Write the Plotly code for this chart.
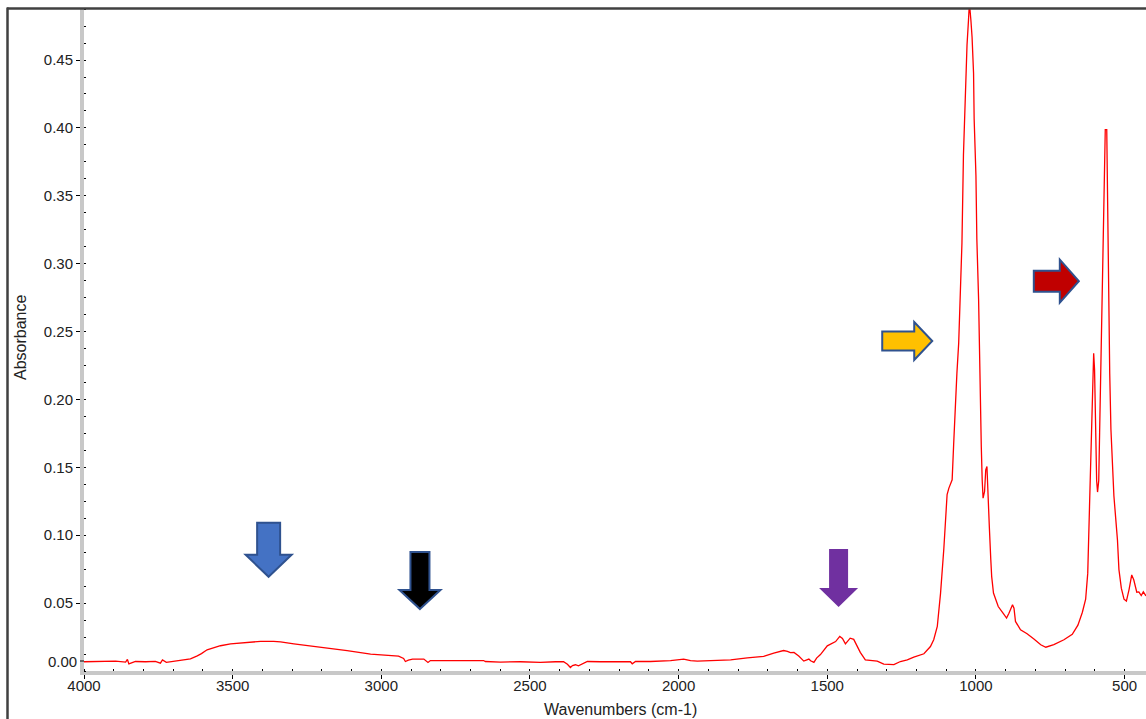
import plotly.graph_objects as go

# ---------------------------------------------------------------------------
# FTIR absorbance spectrum (wavenumber in cm-1, absorbance units)
# ---------------------------------------------------------------------------
wavenumber = [
    4000, 3961, 3928, 3894, 3860, 3854, 3849, 3827, 3793, 3760, 3743, 3736, 3723,
    3692, 3659, 3642, 3619, 3605, 3586, 3563, 3541, 3507, 3451, 3406, 3362, 3339,
    3294, 3227, 3171, 3115, 3036, 2969, 2942, 2925, 2919, 2909, 2895, 2857, 2850,
    2843, 2835, 2801, 2656, 2650, 2599, 2532, 2465, 2414, 2387, 2374, 2364, 2357,
    2347, 2337, 2323, 2307, 2263, 2212, 2162, 2156, 2145, 2095, 2061, 2027, 1983,
    1960, 1937, 1876, 1825, 1769, 1742, 1714, 1680, 1664, 1647, 1634, 1624, 1612,
    1596, 1579, 1562, 1556, 1545, 1536, 1523, 1500, 1486, 1472, 1458, 1449, 1439,
    1430, 1423, 1411, 1402, 1389, 1372, 1332, 1310, 1276, 1254, 1231, 1209, 1175,
    1153, 1142, 1130, 1119, 1108, 1097, 1091, 1086, 1080, 1075, 1069, 1064, 1058,
    1053, 1047, 1042, 1036, 1030, 1025, 1022, 1017, 1013, 1008, 1006, 1000, 997,
    991, 988, 986, 982, 979, 976, 971, 967, 963, 960, 955, 950, 947, 941, 925,
    907, 897, 889, 880, 877, 872, 867, 850, 828, 805, 782, 765, 738, 704, 676,
    657, 642, 631, 624, 618, 612, 607, 604, 601, 597, 594, 591, 587, 584, 581,
    577, 573, 568, 565, 560, 558, 555, 550, 546, 541, 536, 530, 524, 519, 511,
    502, 494, 485, 476, 469, 459, 452, 444, 437, 429, 419,
]

absorbance = [
    0.0068, 0.0070, 0.0067, 0.0072, 0.0066, 0.0085, 0.0052, 0.0070, 0.0068, 0.0071,
    0.0058, 0.0081, 0.0064, 0.0074, 0.0080, 0.0090, 0.0112, 0.0128, 0.0156, 0.0174,
    0.0186, 0.0200, 0.0213, 0.0218, 0.0218, 0.0214, 0.0200, 0.0182, 0.0165, 0.0150,
    0.0125, 0.0115, 0.0110, 0.0092, 0.0070, 0.0080, 0.0088, 0.0088, 0.0075, 0.0063,
    0.0077, 0.0077, 0.0077, 0.0070, 0.0066, 0.0068, 0.0064, 0.0068, 0.0068, 0.0050,
    0.0026, 0.0040, 0.0046, 0.0038, 0.0055, 0.0070, 0.0068, 0.0066, 0.0068, 0.0053,
    0.0070, 0.0070, 0.0072, 0.0077, 0.0088, 0.0076, 0.0073, 0.0076, 0.0082, 0.0097,
    0.0100, 0.0107, 0.0132, 0.0140, 0.0151, 0.0145, 0.0136, 0.0137, 0.0110, 0.0073,
    0.0088, 0.0075, 0.0063, 0.0095, 0.0121, 0.0185, 0.0200, 0.0217, 0.0255, 0.0240,
    0.0200, 0.0225, 0.0242, 0.0233, 0.0190, 0.0137, 0.0082, 0.0073, 0.0050, 0.0047,
    0.0070, 0.0082, 0.0102, 0.0127, 0.0180, 0.0230, 0.0328, 0.0574, 0.0900, 0.1300,
    0.1347, 0.1370, 0.1408, 0.1666, 0.1997, 0.2194, 0.2415, 0.2707, 0.3155, 0.3800,
    0.4309, 0.4611, 0.4795, 0.4920, 0.4795, 0.4668, 0.4403, 0.4066, 0.3649, 0.3186,
    0.2733, 0.2316, 0.1948, 0.1653, 0.1408, 0.1273, 0.1322, 0.1482, 0.1506, 0.1297,
    0.1064, 0.0819, 0.0695, 0.0574, 0.0475, 0.0420, 0.0390, 0.0426, 0.0480, 0.0488,
    0.0463, 0.0365, 0.0303, 0.0274, 0.0235, 0.0193, 0.0175, 0.0195, 0.0230, 0.0270,
    0.0338, 0.0433, 0.0529, 0.0719, 0.1209, 0.1699, 0.2299, 0.2340, 0.2218, 0.1699,
    0.1401, 0.1318, 0.1401, 0.1754, 0.2135, 0.2571, 0.3007, 0.3688, 0.3988, 0.3988,
    0.3512, 0.2789, 0.2190, 0.1781, 0.1482, 0.1291, 0.1128, 0.0965, 0.0747, 0.0610,
    0.0529, 0.0515, 0.0600, 0.0708, 0.0670, 0.0580, 0.0583, 0.0556, 0.0583, 0.0556,
    0.0560,
]

x_ticks = [4000, 3500, 3000, 2500, 2000, 1500, 1000, 500]
y_ticks = [0.05, 0.10, 0.15, 0.20, 0.25, 0.30, 0.35, 0.40, 0.45]

# Band markers: tip position in data units (wavenumber, absorbance)
marker_wn = [3379, 2870, 1462, 1147, 654]
marker_abs = [0.0694, 0.0456, 0.0471, 0.2431, 0.2871]
marker_dir = ["down", "down", "down", "right", "right"]
marker_fill = ["#4472c4", "#000000", "#7030a0", "#ffc000", "#c00000"]
marker_edge = ["#2f528f", "#2f528f", None, "#2f528f", "#2f528f"]
# block-arrow geometry in pixels: total length, head length, shaft width, head width
marker_geom = [(54, 22, 23, 46), (57, 19, 19, 41), (58, 19, 19, 39),
               (50, 18, 19, 38), (45, 19, 21, 43)]

FONT = "Liberation Sans, Arial, sans-serif"
W, H = 1146, 719
ML, MR, MT, MB = 84, 0, 9, 48
PLOT_W = W - ML - MR
PLOT_H = H - MT - MB

fig = go.Figure()
fig.add_trace(go.Scatter(
    x=wavenumber, y=absorbance, mode="lines",
    line=dict(color="#ff0000", width=1.3),
    hoverinfo="skip", showlegend=False,
))


def block_arrow(direction, length, head, shaft, width):
    """Path (pixel offsets from the tip, y up) for a block arrow."""
    hs, hw = shaft / 2, width / 2
    if direction == "down":
        pts = [(0, 0), (hw, head), (hs, head), (hs, length), (-hs, length),
               (-hs, head), (-hw, head)]
    else:  # pointing right
        pts = [(0, 0), (-head, hw), (-head, hs), (-length, hs), (-length, -hs),
               (-head, -hs), (-head, -hw)]
    return "M " + " L ".join(f"{x},{y}" for x, y in pts) + " Z"


shapes = []
for wn, ab, d, fill, edge, geom in zip(marker_wn, marker_abs, marker_dir,
                                       marker_fill, marker_edge, marker_geom):
    shapes.append(dict(
        type="path", xref="x", yref="y",
        xsizemode="pixel", ysizemode="pixel", xanchor=wn, yanchor=ab,
        path=block_arrow(d, *geom),
        fillcolor=fill,
        line=dict(color=edge if edge else fill, width=2 if edge else 0),
        layer="above",
    ))

# outer frame (top and left edges)
shapes.append(dict(type="line", xref="paper", yref="paper",
                   xsizemode="pixel", ysizemode="pixel", xanchor=0, yanchor=1,
                   x0=-77, x1=PLOT_W + 20, y0=0.5, y1=0.5,
                   line=dict(color="#404040", width=2.5)))
shapes.append(dict(type="line", xref="paper", yref="paper",
                   xsizemode="pixel", ysizemode="pixel", xanchor=0, yanchor=1,
                   x0=-76.5, x1=-76.5, y0=1.5, y1=-PLOT_H - 80,
                   line=dict(color="#404040", width=2.5)))
# tick for the zero label, lifted clear of the x axis
shapes.append(dict(type="line", xref="paper", yref="y",
                   xsizemode="pixel", ysizemode="pixel", xanchor=0, yanchor=0,
                   x0=-4, x1=0, y0=10, y1=10,
                   line=dict(color="#000000", width=1)))

annotations = [
    dict(text="0.00", xref="paper", yref="y", x=0, y=0, xanchor="right",
         yanchor="middle", xshift=-5, yshift=10, showarrow=False,
         font=dict(family=FONT, size=15, color="#222222")),
    dict(text="Absorbance", xref="paper", yref="paper", x=0, y=(H - MB - 338) / PLOT_H,
         xshift=20 - ML, textangle=-90, xanchor="center", yanchor="middle",
         showarrow=False, font=dict(family=FONT, size=16, color="#222222")),
    dict(text="Wavenumbers (cm-1)", xref="paper", yref="paper",
         x=(620 - ML) / PLOT_W, y=0, yshift=-38, xanchor="center", yanchor="middle",
         showarrow=False, font=dict(family=FONT, size=16, color="#222222")),
]

axis_common = dict(
    showline=True, linecolor="#c8c8c8", linewidth=4,
    ticks="outside", ticklen=4, tickwidth=1, tickcolor="#000000",
    showgrid=False, zeroline=False,
    tickfont=dict(family=FONT, size=15, color="#222222"),
)

fig.update_layout(
    width=W, height=H,
    margin=dict(l=ML, r=MR, t=MT, b=MB, pad=0),
    paper_bgcolor="#ffffff", plot_bgcolor="#ffffff",
    xaxis=dict(
        range=[4000, 428], tickmode="array", tickvals=x_ticks,
        ticktext=[str(v) for v in x_ticks], ticklabelstandoff=-6,
        minor=dict(tick0=0, dtick=100, ticks="inside", ticklen=2,
                   tickcolor="#000000", showgrid=False),
        **axis_common,
    ),
    yaxis=dict(
        range=[0, 0.4876], tickmode="array", tickvals=y_ticks,
        ticktext=[f"{v:.2f}" for v in y_ticks],
        minor=dict(tick0=0, dtick=0.0125, ticks="inside", ticklen=2,
                   tickcolor="#000000", showgrid=False),
        **axis_common,
    ),
    shapes=shapes,
    annotations=annotations,
    showlegend=False,
)

fig.write_html("out.html")
